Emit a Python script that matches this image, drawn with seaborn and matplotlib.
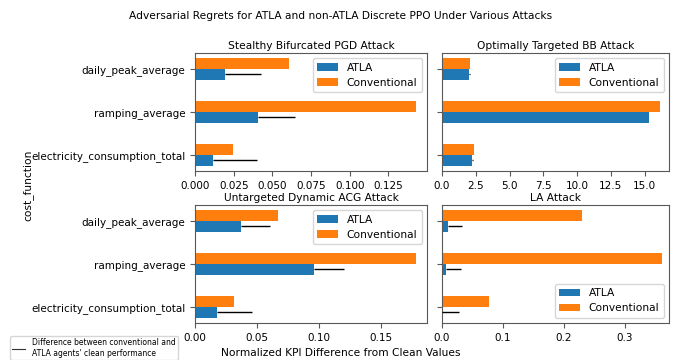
import numpy as np
import pandas as pd
import matplotlib
matplotlib.use("Agg")
import matplotlib.pyplot as plt
import seaborn as sns
from matplotlib.lines import Line2D

plt.rcParams['font.family'] = ['DejaVu Sans']
plt.rcParams['font.size'] = 7.5
plt.rcParams['axes.edgecolor'] = '0.35'
plt.rcParams['xtick.color'] = '0.35'
plt.rcParams['ytick.color'] = '0.35'
plt.rcParams['xtick.labelcolor'] = 'black'
plt.rcParams['ytick.labelcolor'] = 'black'

# cost functions, top to bottom as drawn
cost_functions = ["daily_peak_average", "ramping_average", "electricity_consumption_total"]

# difference between conventional and ATLA agents' clean performance
clean_diff = [0.0235, 0.0242, 0.0283]

attacks = ["Stealthy Bifurcated PGD Attack", "Optimally Targeted BB Attack",
           "Untargeted Dynamic ACG Attack", "LA Attack"]

# normalized KPI difference from clean values (same order as cost_functions)
pgd_atla = [0.0194, 0.0405, 0.0118]
pgd_conv = [0.0606, 0.1425, 0.0248]
bb_atla = [2.02, 15.3, 2.25]
bb_conv = [2.07, 16.1, 2.40]
acg_atla = [0.0371, 0.0960, 0.0175]
acg_conv = [0.0667, 0.178, 0.0317]
la_atla = [0.0093, 0.0066, 0.0]
la_conv = [0.230, 0.361, 0.077]

atla_vals = [pgd_atla, bb_atla, acg_atla, la_atla]
conv_vals = [pgd_conv, bb_conv, acg_conv, la_conv]
xlims = [0.1499, 16.8, 0.187, 0.372]

colors = {"ATLA": "#1f77b4", "Conventional": "#ff7f0e"}

W, H = 681, 360
fig = plt.figure(figsize=(W / 100, H / 100), dpi=100)

# axes rectangles in pixels: left, top, right, bottom
rects = [(195, 53, 427, 171), (442, 53, 669, 171),
         (195, 205, 427, 323), (442, 205, 669, 323)]
legend_locs = ["upper right", "upper right", "upper right", "lower right"]

for i, attack in enumerate(attacks):
    l, t, r, b = rects[i]
    ax = fig.add_axes([l / W, 1 - b / H, (r - l) / W, (b - t) / H])

    df = pd.DataFrame({
        "cost_function": cost_functions * 2,
        "agent": ["ATLA"] * 3 + ["Conventional"] * 3,
        "value": atla_vals[i] + conv_vals[i],
    })
    sns.barplot(data=df, y="cost_function", x="value", hue="agent",
                order=cost_functions, hue_order=["Conventional", "ATLA"],
                palette=colors, saturation=1, width=0.5, orient="h",
                errorbar=None, ax=ax)

    # clean-performance difference line drawn from the end of each ATLA bar
    atla_bars = ax.containers[1]
    ys = [p.get_y() + p.get_height() / 2 for p in atla_bars]
    xs = [p.get_width() for p in atla_bars]
    ax.errorbar(xs, ys, xerr=[np.zeros(len(xs)), clean_diff], fmt="none",
                ecolor="black", elinewidth=1, capsize=0, zorder=3)

    ax.set_xlim(0, xlims[i])
    ax.set_title(attack, fontsize=7.7, pad=3)
    ax.set_xlabel("")
    ax.set_ylabel("")
    if i % 2 == 1:
        ax.set_yticklabels([])

    handles, labels = ax.get_legend_handles_labels()
    order = [labels.index("ATLA"), labels.index("Conventional")]
    ax.legend([handles[k] for k in order], [labels[k] for k in order],
              loc=legend_locs[i], fontsize=7.7)

fig.suptitle("Adversarial Regrets for ATLA and non-ATLA Discrete PPO Under Various Attacks",
             y=1 - 16 / H, va="center", fontsize=7.7)
fig.text(27.5 / W, 1 - 185 / H, "cost_function", rotation=90,
         ha="center", va="center", fontsize=7.7)
fig.text(0.5, 1 - 353 / H, "Normalized KPI Difference from Clean Values",
         ha="center", va="center", fontsize=7.7)

leg = fig.legend([Line2D([], [], color="0.2", linewidth=0.8)],
                 ["Difference between conventional and\nATLA agents' clean performance"],
                 loc="upper left", bbox_to_anchor=(10 / W, 1 - 336 / H),
                 borderaxespad=0, borderpad=0.3, fontsize=5.5,
                 handlelength=1.6, handletextpad=1.0)
for txt in leg.get_texts():
    txt.set_linespacing(1.2)

fig.savefig("out.png", dpi=100)
